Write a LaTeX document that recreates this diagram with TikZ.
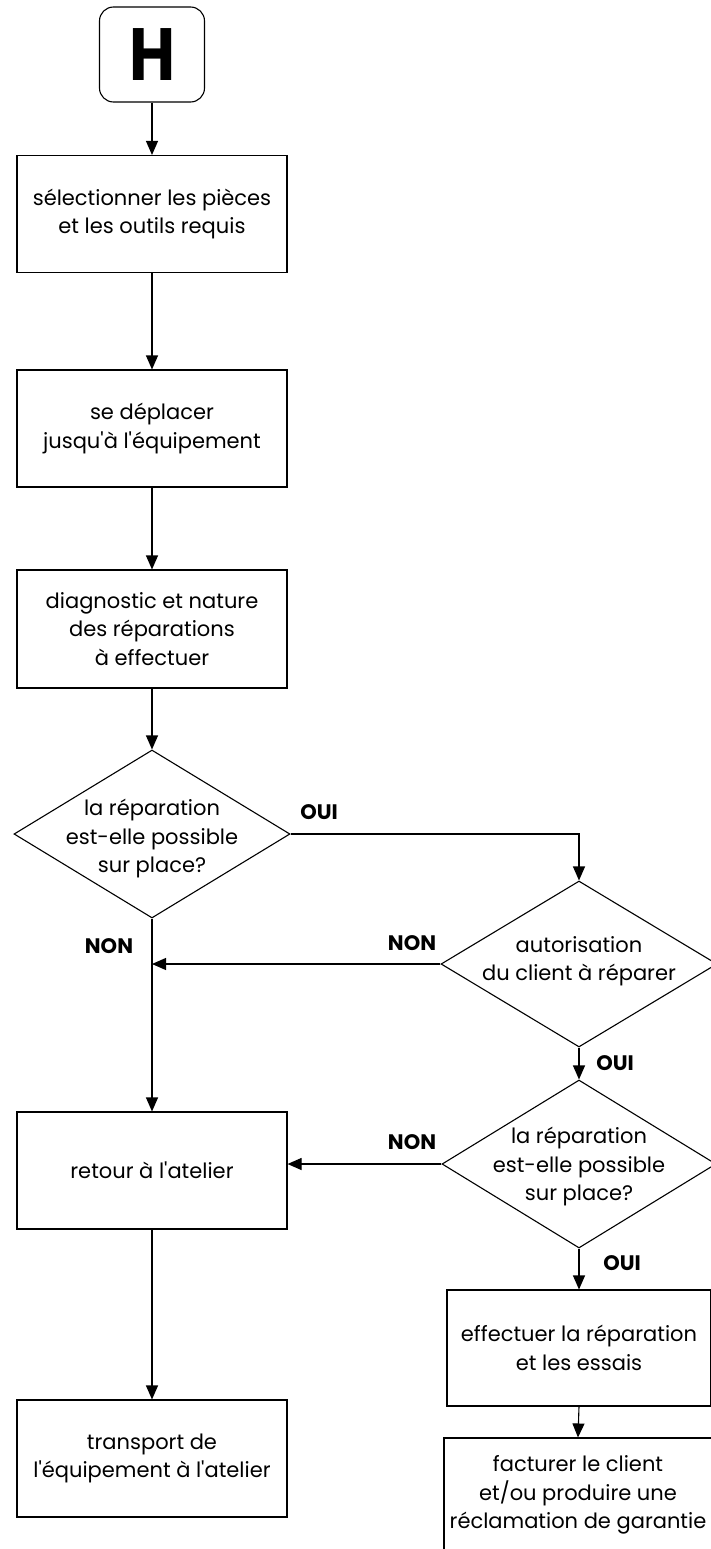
\documentclass[tikz,border=0pt]{standalone}
\usepackage{fontspec}
\setmainfont{Poppins}
\usetikzlibrary{arrows.meta,shapes.geometric}

\newcommand{\stepfont}{\fontsize{21}{28.5}\selectfont}
\newcommand{\answerfont}{\fontsize{21}{21}\selectfont\bfseries}
\newcommand{\apos}{\textquotesingle}

\begin{document}
\begin{tikzpicture}[x=1pt,y=-1pt,
  flow/.style={line width=1.1pt},
  arr/.style={flow, -{Triangle[length=14pt,width=12pt]}},
  stepbox/.style={draw, flow, minimum width=270pt, minimum height=117pt,
    inner sep=0pt, align=center, font=\stepfont},
  startbox/.style={draw, flow, rounded corners=14pt, minimum width=105pt,
    minimum height=95pt, inner sep=0pt, font=\fontsize{74}{74}\selectfont\bfseries},
  decision/.style={draw, flow, shape=diamond, inner sep=0pt},
  qtext/.style={align=center, font=\stepfont, inner sep=0pt},
  answer/.style={font=\answerfont, inner sep=0pt}]

\useasboundingbox (0,0) rectangle (710,1549);

% left column
\node[startbox] (h) at (152,54.5) {\scalebox{0.85}[1]{H}};
\node[stepbox] (b1) at (152,214) {sélectionner les pièces\\et les outils requis};
\node[stepbox] (b2) at (152,428.5) {se déplacer\\jusqu\apos à l\apos équipement};
\node[stepbox, minimum height=118pt] (b3) at (152,629) {diagnostic et nature\\des réparations\\à effectuer};
\node[decision, minimum width=276pt, minimum height=168pt] (d1) at (152,834) {};
\node[qtext] at (152,839) {la réparation\\est-elle possible\\sur place?};
\node[stepbox] (ret) at (152,1170.5) {retour à l\apos atelier};
\node[stepbox] (tr) at (152,1458.5) {transport de\\l\apos équipement à l\apos atelier};

% right column
\node[decision, minimum width=276pt, minimum height=166pt] (d2) at (579,964) {};
\node[qtext] at (579,961) {autorisation\\du client à réparer};
\node[decision, minimum width=274pt, minimum height=168pt] (d3) at (579,1164) {};
\node[qtext] at (579,1167) {la réparation\\est-elle possible\\sur place?};
\node[stepbox, minimum width=264pt, minimum height=116pt] (eff) at (579,1348) {effectuer la réparation\\et les essais};
\node[stepbox, minimum width=268pt, minimum height=114pt] (fac) at (578,1495) {facturer le client\\et/ou produire une\\réclamation de garantie};

% answers
\node[answer] (oui1) at (319,812) {OUI};
\node[answer] (non1) at (109,946) {NON};
\node[answer] (non2) at (412,943) {NON};
\node[answer] (oui2) at (615,1063) {OUI};
\node[answer] (non3) at (412,1142) {NON};
\node[answer] (oui3) at (622,1263) {OUI};

% connectors
\draw[arr] (h.south) -- (b1.north);
\draw[arr] (b1) -- (b2);
\draw[arr] (b2) -- (b3);
\draw[arr] (b3) -- (d1);
\draw[arr] (d1.east) -| (d2.north);
\draw[arr] (d1.south) -- (ret.north);
\draw[arr] (d2.west) -- (d2.west -| d1.south);
\draw[arr] (d2.south) -- (d3.north);
\draw[arr] (d3.west) -- (d3.west -| ret.east);
\draw[arr] (d3.south) -- (eff.north);
\draw[arr] (eff.south) -- (fac.north);
\draw[arr] (ret.south) -- (tr.north);
\end{tikzpicture}
\end{document}
